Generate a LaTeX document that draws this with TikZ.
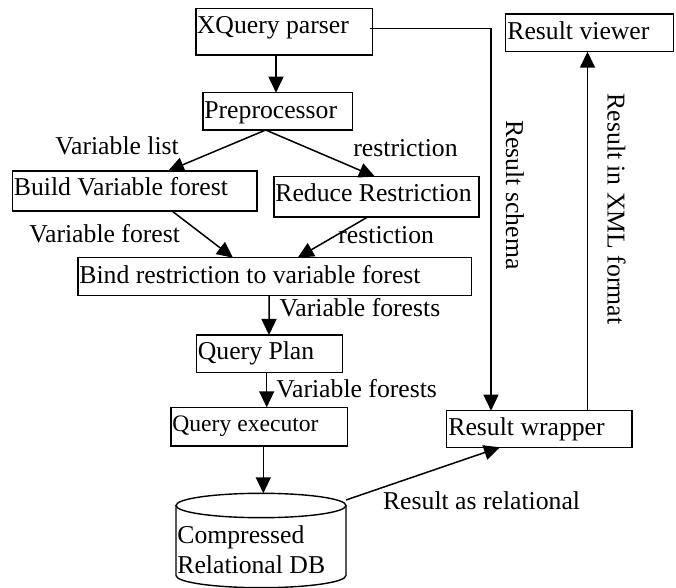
\documentclass[tikz,border=0pt]{standalone}
\usepackage{fontspec}
\setmainfont{Liberation Serif}
\usetikzlibrary{arrows.meta,calc}
\begin{document}
\begin{tikzpicture}[x=0.5pt,y=-0.5pt,
  box/.style={draw,line width=0.7pt,rectangle,inner sep=0pt,outer sep=0pt,anchor=north west},
  txt/.style={anchor=base west,inner sep=0pt,font=\fontsize{12.85pt}{15pt}\selectfont},
  smalltxt/.style={anchor=base west,inner sep=0pt,font=\fontsize{11.8pt}{14pt}\selectfont},
  arr/.style={line width=0.75pt,-{Triangle[length=8pt,width=7.5pt]}},
  conn/.style={line width=0.75pt}]
\useasboundingbox (0,0) rectangle (676,588);

% boxes
\node[box,minimum width=88.35pt,minimum height=23.35pt] (xq) at (196,8.3) {};
\node[box,minimum width=74.85pt,minimum height=18.65pt] (pre) at (203,92.7) {};
\node[box,minimum width=122.15pt,minimum height=20pt] (build) at (12.7,171) {};
\node[box,minimum width=102.5pt,minimum height=20.15pt] (red) at (274,176.7) {};
\node[box,minimum width=196.85pt,minimum height=19pt] (bind) at (78,257.7) {};
\node[box,minimum width=73pt,minimum height=18.65pt] (qp) at (196.7,335) {};
\node[box,minimum width=88.15pt,minimum height=19.35pt] (qe) at (171,407.3) {};
\node[box,minimum width=92.65pt,minimum height=18.3pt] (wrap) at (446.7,410.7) {};
\node[box,minimum width=83.8pt,minimum height=18.85pt] (view) at (505.7,14) {};

% cylinder
\draw[line width=0.7pt] (176,505.5) -- (176,575.5) arc[start angle=180,end angle=360,x radius=42.5pt,y radius=6.1pt] -- (346,505.5);
\draw[line width=0.7pt] (261,505.5) ellipse[x radius=42.5pt,y radius=6.1pt];
\coordinate (dbtop) at (263.3,493.3);
\coordinate (dbright) at (346,500);

% box texts
\node[txt] (xqt) at (196.5,33.3) {XQuery parser};
\node[txt] (pret) at (204,118.5) {Preprocessor};
\node[txt] (buildt) at (13.5,196) {Build Variable forest};
\node[txt] (redt) at (275,201.3) {Reduce Restriction};
\node[txt] (bindt) at (79,283.3) {Bind restriction to variable forest};
\node[txt] (qpt) at (197.5,360) {Query Plan};
\node[smalltxt] (qet) at (172,431.7) {Query executor};
\node[txt] (dbt1) at (177,544) {Compressed};
\node[txt] (dbt2) at (177,573.3) {Relational DB};
\node[txt] (wrapt) at (448,436) {Result wrapper};
\node[txt] (viewt) at (507,39.3) {Result viewer};

% labels
\node[txt] (l1) at (55,155) {Variable list};
\node[txt] (l2) at (353,157) {restriction};
\node[txt] (l3) at (29,242.7) {Variable forest};
\node[txt] (l4) at (338,243.3) {restiction};
\node[txt] (l5) at (279.3,316.7) {Variable forests};
\node[txt] (l6) at (276,397.3) {Variable forests};
\node[txt] (l7) at (382.7,509.3) {Result as relational};
\node[txt,rotate=-90] (l8) at (506,120) {Result schema};
\node[txt,rotate=-90] (l9) at (607.5,93.3) {Result in XML format};

% connectors
\draw[arr] ($(xq.south west)+(80,0)$) -- ($(pre.north west)+(73,0)$);
\draw[arr] ($(pre.south west)+(62.7,0)$) -- ($(build.north west)+(155.3,0)$);
\draw[arr] ($(pre.south west)+(62.7,0)$) -- ($(red.north west)+(101,0)$);
\draw[arr] ($(build.south west)+(159.3,0)$) -- ($(bind.north west)+(155,0)$);
\draw[arr] ($(red.south west)+(93.7,0)$) -- ($(bind.north west)+(219.7,0)$);
\draw[arr] ($(bind.south west)+(191,0)$) -- ($(qp.north west)+(72.3,0)$);
\draw[arr] ($(qp.south west)+(70,0)$) -- ($(qe.north west)+(95.7,0)$);
\draw[arr] ($(qe.south west)+(92.3,0)$) -- (dbtop);
\draw[arr] (dbright) -- ($(wrap.south west)+(53.3,0)$);
\draw[arr] ($(xq.north east)+(-3,20)$) -| ($(wrap.north west)+(44.3,0)$);
\draw[arr] ($(wrap.north west)+(140.8,0)$) -- ($(view.south west)+(81.8,0)$);
\end{tikzpicture}
\end{document}
